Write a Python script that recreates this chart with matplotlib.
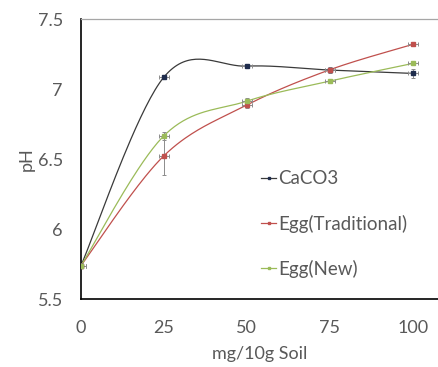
import numpy as np
import matplotlib.pyplot as plt
from matplotlib.lines import Line2D

# --- adatok ---
doses = [0, 25, 50, 75, 100]
caco3 = [5.74, 7.086, 7.164, 7.136, 7.112]
egg_trad = [5.74, 6.524, 6.886, 7.138, 7.319]
egg_new = [5.74, 6.667, 6.914, 7.057, 7.183]
caco3_err = [0.02, 0.01, 0.01, 0.01, 0.03]
egg_trad_err = [0.01, 0.14, 0.02, 0.02, 0.01]
egg_new_err = [0.01, 0.03, 0.02, 0.01, 0.01]
x_err = 1.5

series = [
    ("CaCO3", caco3, caco3_err, "#3a3a3a", "#1f2d4d"),
    ("Egg(Traditional)", egg_trad, egg_trad_err, "#c0504d", "#c0504d"),
    ("Egg(New)", egg_new, egg_new_err, "#9bbb59", "#9bbb59"),
]


def smooth_curve(x, y, n=40):
    """Excel-szerű simított vonal (Bezier, Catmull-Rom kontrollpontok)."""
    p = np.column_stack([x, y]).astype(float)
    pts = []
    for i in range(len(p) - 1):
        p0 = p[i - 1] if i > 0 else p[i]
        p3 = p[i + 2] if i + 2 < len(p) else p[i + 1]
        c1 = p[i] + (p[i + 1] - p0) / 6
        c2 = p[i + 1] - (p3 - p[i]) / 6
        t = np.linspace(0, 1, n)[:, None]
        seg = ((1 - t) ** 3 * p[i] + 3 * (1 - t) ** 2 * t * c1
               + 3 * (1 - t) * t ** 2 * c2 + t ** 3 * p[i + 1])
        pts.append(seg if i == 0 else seg[1:])
    pts = np.vstack(pts)
    return pts[:, 0], pts[:, 1]


plt.rcParams['font.family'] = ['Lato', 'DejaVu Sans']
text_col = '#595959'

fig = plt.figure(figsize=(4.38, 3.67), dpi=100)
ax = fig.add_axes([0.185, 0.185, 0.814, 0.763])

handles = []
for name, vals, err, lcol, mcol in series:
    sx, sy = smooth_curve(doses, vals)
    ax.plot(sx, sy, color=lcol, lw=0.9, zorder=2)
    ax.errorbar(doses, vals, yerr=err, xerr=x_err, fmt='none',
                ecolor='#8c8c8c', elinewidth=0.7, capsize=1.5, capthick=0.7, zorder=3)
    ax.plot(doses, vals, ls='none', marker='s', ms=3.0, color=mcol, zorder=4)
    handles.append(Line2D([], [], color=lcol, lw=0.9, marker='s', ms=2.0,
                          markerfacecolor=mcol, markeredgecolor=mcol))

ax.set_xlim(0, 107.5)
ax.set_ylim(5.5, 7.5)
ax.set_xticks(doses)
ax.set_yticks([5.5, 6, 6.5, 7, 7.5])
ax.set_yticklabels(['5.5', '6', '6.5', '7', '7.5'])
ax.tick_params(length=0, labelsize=13, colors=text_col)
ax.tick_params(axis='x', pad=15)
ax.tick_params(axis='y', pad=13)

for s in ['left', 'bottom']:
    ax.spines[s].set_color('black')
    ax.spines[s].set_linewidth(1.2)
ax.spines['right'].set_visible(False)
ax.spines['top'].set_color('#a6a6a6')
ax.spines['top'].set_linewidth(0.9)

ax.set_xlabel('mg/10g Soil', fontsize=13, color=text_col, labelpad=7)
ax.set_ylabel('pH', fontsize=13, color=text_col, labelpad=2)

ax.legend(handles, [s[0] for s in series], loc='upper left',
          bbox_to_anchor=(0.505, 0.46), frameon=False, fontsize=13.5,
          labelcolor=text_col, handlelength=0.8, handletextpad=0.1,
          labelspacing=1.45, borderaxespad=0, borderpad=0)

fig.savefig('out.png', dpi=100)
